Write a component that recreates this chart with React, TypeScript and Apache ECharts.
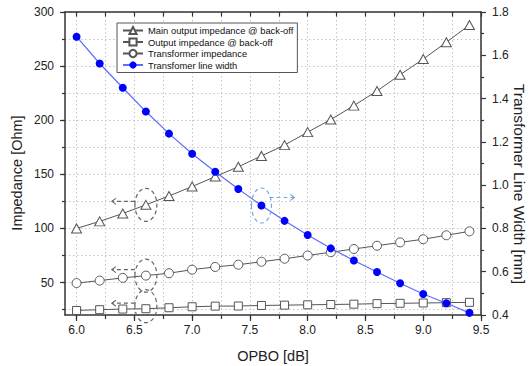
import React, { useEffect, useRef } from "react";
import * as echarts from "echarts";

const xValues = [6.0, 6.2, 6.4, 6.6, 6.8, 7.0, 7.2, 7.4, 7.6, 7.8, 8.0, 8.2, 8.4, 8.6, 8.8, 9.0, 9.2, 9.4];
const mainImpedance = [100, 106.5, 113.8, 121.8, 130, 138.7, 147.9, 157, 167, 177, 189, 200.6, 213.5, 227, 242, 256.5, 272, 288];
const outputImpedance = [24.2, 24.9, 25.5, 25.8, 26.7, 27.6, 28.2, 28.3, 28.8, 29.1, 29.4, 29.7, 30.0, 30.5, 30.8, 31.1, 31.4, 31.7];
const transformerImpedance = [49.5, 51.8, 54.3, 56.4, 58.6, 61.9, 64.4, 66.5, 69.2, 72, 75, 78, 81, 84, 87.1, 90, 93.7, 97.3];
const transformerLineWidth = [1.686, 1.562, 1.45, 1.34, 1.238, 1.145, 1.062, 0.982, 0.906, 0.835, 0.77, 0.708, 0.652, 0.599, 0.547, 0.497, 0.454, 0.41];

const seriesNames = [
  "Main output impedance @ back-off",
  "Output impedance @ back-off",
  "Transformer impedance",
  "Transfomer line width",
];

const xAxisName = "OPBO [dB]";
const leftAxisName = "Impedance [Ohm]";
const rightAxisName = "Transformer Line Width [mm]";

const xMajorTicks = [6.0, 6.5, 7.0, 7.5, 8.0, 8.5, 9.0, 9.5];
const xAllTicks = [6.0, 6.25, 6.5, 6.75, 7.0, 7.25, 7.5, 7.75, 8.0, 8.25, 8.5, 8.75, 9.0, 9.25, 9.5];
const yMajorTicks = [50, 100, 150, 200, 250, 300];
const yAllTicks = [25, 50, 75, 100, 125, 150, 175, 200, 225, 250, 275, 300];

const FONT = "'Liberation Sans', Arial, sans-serif";
const AXIS = "#333";
const TEXT = "#222";
const GRID = "#c4c4c4";
const SERIES_GRAY = "#555";
const BLUE = "#0000ff";
const BLUE_LINE = "#5c6cff";

export default function App() {
  const ref = useRef<HTMLDivElement>(null);

  useEffect(() => {
    document.body.style.margin = "0";
    if (!ref.current) return;
    const chart = echarts.init(ref.current, undefined, { renderer: "svg" });

    const toPairs = (ys: number[]) => xValues.map((x, i) => [x, ys[i]]);
    const axisLine = { show: true, onZero: false, lineStyle: { color: AXIS, width: 1.5 } };
    const tickStyle = { color: AXIS, width: 1.2 };
    const labelStyle = { fontSize: 12, color: TEXT, fontFamily: FONT };

    chart.setOption({
      animation: false,
      backgroundColor: "#fff",
      textStyle: { fontFamily: FONT },
      grid: { left: 65, right: 50, top: 12, bottom: 51, outerBoundsMode: "none", containLabel: false },
      legend: {
        orient: "vertical",
        left: 117,
        top: 23,
        padding: [2, 4, 2, 5],
        itemGap: 0.5,
        itemWidth: 20,
        itemHeight: 9,
        borderColor: "#555",
        borderWidth: 1,
        borderRadius: 0,
        backgroundColor: "#fff",
        textStyle: { fontSize: 9.4, color: "#111", lineHeight: 11, fontFamily: FONT },
        data: seriesNames,
      },
      xAxis: [
        {
          type: "value",
          min: 5.9,
          max: 9.5,
          position: "bottom",
          axisLine,
          axisTick: { show: true, customValues: xMajorTicks, length: 6, inside: false, lineStyle: tickStyle },
          axisLabel: { customValues: xMajorTicks, formatter: (v: number) => v.toFixed(1), margin: 9, ...labelStyle },
          splitLine: { show: false },
          name: xAxisName,
          nameLocation: "middle",
          nameGap: 33,
          nameTextStyle: { fontSize: 14.5, color: TEXT, fontFamily: FONT },
        },
        {
          type: "value",
          min: 5.9,
          max: 9.5,
          position: "bottom",
          axisLine: { show: false, onZero: false },
          axisTick: { show: true, customValues: xAllTicks, length: 4, inside: false, lineStyle: tickStyle },
          axisLabel: { show: false },
          splitLine: { show: true, lineStyle: { color: GRID, type: [1.5, 2.5], width: 1 } },
        },
        {
          type: "value",
          min: 5.9,
          max: 9.5,
          position: "top",
          axisLine,
          axisTick: { show: true, customValues: xAllTicks, length: 4.5, inside: true, lineStyle: tickStyle },
          axisLabel: { show: false },
          splitLine: { show: false },
        },
      ],
      yAxis: [
        {
          type: "value",
          min: 20,
          max: 300,
          position: "left",
          axisLine,
          axisTick: { show: true, customValues: yMajorTicks, length: 5, inside: false, lineStyle: tickStyle },
          axisLabel: { customValues: yMajorTicks, margin: 11, ...labelStyle },
          splitLine: { show: false },
        },
        {
          type: "value",
          min: 20,
          max: 300,
          position: "left",
          axisLine: { show: false, onZero: false },
          axisTick: { show: true, customValues: yAllTicks, length: 3, inside: false, lineStyle: tickStyle },
          axisLabel: { show: false },
          splitLine: { show: true, lineStyle: { color: GRID, type: [1.5, 2.5], width: 1 } },
        },
        {
          type: "value",
          min: 0.4,
          max: 1.8,
          interval: 0.2,
          position: "right",
          axisLine,
          axisTick: { show: true, length: 5, inside: false, lineStyle: tickStyle },
          minorTick: { show: true, splitNumber: 2, length: 3, lineStyle: tickStyle },
          axisLabel: { formatter: (v: number) => v.toFixed(1), margin: 11, ...labelStyle },
          splitLine: { show: false },
        },
      ],
      series: [
        {
          name: seriesNames[0],
          type: "line",
          xAxisIndex: 0,
          yAxisIndex: 0,
          data: toPairs(mainImpedance),
          symbol: "triangle",
          symbolSize: [10, 9],
          itemStyle: { color: "#fff", borderColor: SERIES_GRAY, borderWidth: 1 },
          lineStyle: { color: SERIES_GRAY, width: 1 },
          z: 2,
        },
        {
          name: seriesNames[1],
          type: "line",
          xAxisIndex: 0,
          yAxisIndex: 0,
          data: toPairs(outputImpedance),
          symbol: "rect",
          symbolSize: 8,
          itemStyle: { color: "#fff", borderColor: SERIES_GRAY, borderWidth: 1 },
          lineStyle: { color: SERIES_GRAY, width: 1 },
          z: 2,
        },
        {
          name: seriesNames[2],
          type: "line",
          xAxisIndex: 0,
          yAxisIndex: 0,
          data: toPairs(transformerImpedance),
          symbol: "circle",
          symbolSize: 9,
          itemStyle: { color: "#fff", borderColor: SERIES_GRAY, borderWidth: 1 },
          lineStyle: { color: SERIES_GRAY, width: 1 },
          z: 2,
        },
        {
          name: seriesNames[3],
          type: "line",
          xAxisIndex: 0,
          yAxisIndex: 2,
          data: toPairs(transformerLineWidth),
          symbol: "circle",
          symbolSize: 8,
          itemStyle: { color: BLUE, borderColor: BLUE, borderWidth: 0 },
          lineStyle: { color: BLUE_LINE, width: 1.2 },
          z: 3,
        },
      ],
    });

    // Annotations anchored to data points
    const px = (si: number, x: number, y: number) =>
      chart.convertToPixel({ seriesIndex: si }, [x, y]) as number[];
    const grayC = "#666";
    const blueC = "#7aa6dc";
    const graphics: any[] = [];

    // rotated axis titles
    graphics.push({
      type: "text",
      x: 17,
      y: 173,
      rotation: Math.PI / 2,
      style: { text: leftAxisName, fontSize: 14.5, fill: TEXT, fontFamily: FONT, align: "center", verticalAlign: "middle" },
    });
    graphics.push({
      type: "text",
      x: 519,
      y: 184,
      rotation: -Math.PI / 2,
      style: { text: rightAxisName, fontSize: 15.5, fill: TEXT, fontFamily: FONT, align: "center", verticalAlign: "middle" },
    });

    const grayAnchors = [
      { p: px(0, xValues[3], mainImpedance[3]), dy: -3.5, cyOff: 0 },
      { p: px(2, xValues[3], transformerImpedance[3]), dy: -6, cyOff: 0 },
      { p: px(1, xValues[3], outputImpedance[3]), dy: -5.5, cyOff: -2.5 },
    ];
    grayAnchors.forEach(({ p, dy, cyOff }) => {
      const cx = p[0];
      const cy = p[1] + cyOff;
      graphics.push({
        type: "ellipse",
        shape: { cx, cy, rx: 11, ry: 16.5 },
        style: { fill: "none", stroke: grayC, lineWidth: 1.2, lineDash: [4, 3] },
        z: 10,
      });
      const ay = p[1] + dy;
      graphics.push({
        type: "line",
        shape: { x1: cx - 11, y1: ay, x2: cx - 34, y2: ay },
        style: { stroke: grayC, lineWidth: 1.2, lineDash: [4, 3] },
        z: 10,
      });
      graphics.push({
        type: "polyline",
        shape: { points: [[cx - 30, ay - 3], [cx - 34, ay], [cx - 30, ay + 3]] },
        style: { stroke: grayC, lineWidth: 1.1, fill: "none" },
        z: 10,
      });
    });
    const b = px(3, xValues[8], transformerLineWidth[8]);
    graphics.push({
      type: "ellipse",
      shape: { cx: b[0], cy: b[1], rx: 10, ry: 17.5 },
      style: { fill: "none", stroke: blueC, lineWidth: 1.2, lineDash: [4, 3] },
      z: 10,
    });
    const by = b[1] - 8;
    graphics.push({
      type: "line",
      shape: { x1: b[0] + 8, y1: by, x2: b[0] + 33, y2: by },
      style: { stroke: blueC, lineWidth: 1.2, lineDash: [4, 3] },
      z: 10,
    });
    graphics.push({
      type: "polyline",
      shape: { points: [[b[0] + 29, by - 3], [b[0] + 33, by], [b[0] + 29, by + 3]] },
      style: { stroke: blueC, lineWidth: 1.1, fill: "none" },
      z: 10,
    });
    chart.setOption({ graphic: graphics });

    return () => chart.dispose();
  }, []);

  return (
    <div
      ref={ref}
      style={{ position: "fixed", left: 0, top: 0, width: 531, height: 366, background: "#fff" }}
    />
  );
}
